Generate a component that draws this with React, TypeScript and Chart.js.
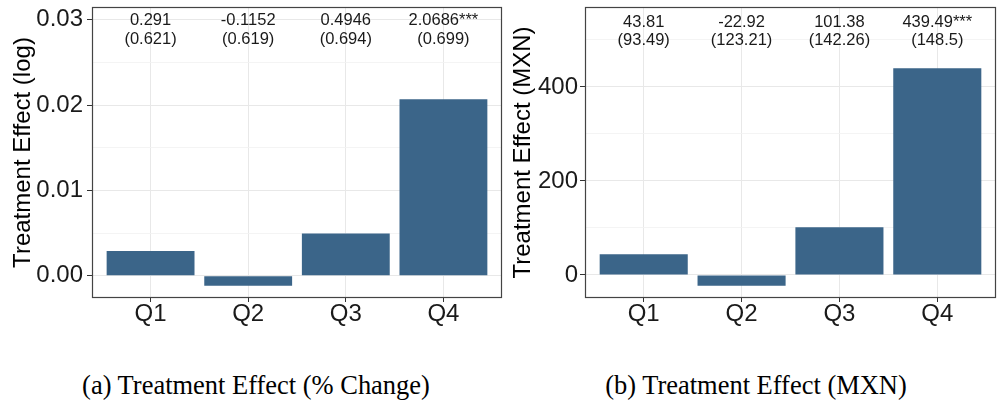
import React, { useEffect, useRef } from 'react';
import { Chart, registerables } from 'chart.js';

Chart.register(...registerables);

// ---- Data ----
const categories = ['Q1', 'Q2', 'Q3', 'Q4'];

const pctValues = [0.00291, -0.001152, 0.004946, 0.020686];
const pctEstimates = ['0.291', '-0.1152', '0.4946', '2.0686***'];
const pctStdErrors = ['(0.621)', '(0.619)', '(0.694)', '(0.699)'];
const pctMajorTicks = [0, 0.01, 0.02, 0.03];
const pctMinorTicks = [0.005, 0.015, 0.025];
const pctRange = [-0.0026, 0.0315];
const pctLabelY = 0.0299;

const mxnValues = [43.81, -22.92, 101.38, 439.49];
const mxnEstimates = ['43.81', '-22.92', '101.38', '439.49***'];
const mxnStdErrors = ['(93.49)', '(123.21)', '(142.26)', '(148.5)'];
const mxnMajorTicks = [0, 200, 400];
const mxnMinorTicks = [100, 300, 500];
const mxnRange = [-49, 570];
const mxnLabelY = 538;

const BAR_COLOR = '#3b6589';
const MAJOR_GRID = '#e8e8e8';
const MINOR_GRID = '#f1f1f1';
const SANS = '"Liberation Sans", Arial, sans-serif';

type PanelProps = {
  left: number;
  width: number;
  height: number;
  yAxisWidth: number;
  rightPad: number;
  values: number[];
  estimates: string[];
  stdErrors: string[];
  majorTicks: number[];
  minorTicks: number[];
  range: number[];
  labelY: number;
  yTitle: string;
  titlePad: number;
  tickPad: number;
  format: (v: number) => string;
};

function Panel(p: PanelProps) {
  const ref = useRef<HTMLCanvasElement | null>(null);

  useEffect(() => {
    if (!ref.current) return;
    const isMajor = (v: number) => p.majorTicks.includes(v);

    const overlay = {
      id: 'overlay',
      afterDraw(chart: any) {
        const { ctx, chartArea } = chart;
        const xs = chart.scales.x;
        const ys = chart.scales.y;
        ctx.save();
        // panel border
        ctx.strokeStyle = '#444444';
        ctx.lineWidth = 1.2;
        ctx.strokeRect(
          Math.round(chartArea.left) + 0.5,
          Math.round(chartArea.top) + 0.5,
          Math.round(chartArea.right - chartArea.left) - 1,
          Math.round(chartArea.bottom - chartArea.top) - 1
        );
        // annotations
        ctx.fillStyle = '#1a1a1a';
        ctx.font = `16.5px ${SANS}`;
        ctx.textAlign = 'center';
        ctx.textBaseline = 'middle';
        categories.forEach((_, i) => {
          const x = xs.getPixelForValue(i);
          const y = ys.getPixelForValue(p.labelY);
          ctx.fillText(p.estimates[i], x, y);
          ctx.fillText(p.stdErrors[i], x, y + 18.5);
        });
        ctx.restore();
      },
    };

    const chart = new Chart(ref.current, {
      type: 'bar',
      data: {
        datasets: [
          {
            data: categories.map((_, i) => ({ x: i, y: p.values[i] })),
            backgroundColor: BAR_COLOR,
            borderWidth: 0,
            barPercentage: 0.9,
            categoryPercentage: 1.0,
          },
        ],
      },
      options: {
        responsive: false,
        animation: false,
        devicePixelRatio: 1,
        layout: { padding: { top: 7, right: p.rightPad, left: 0, bottom: 0 } },
        plugins: {
          legend: { display: false },
          tooltip: { enabled: false },
        },
        scales: {
          x: {
            type: 'linear',
            min: -0.6,
            max: 3.6,
            offset: false,
            bounds: 'data',
            afterBuildTicks: (scale: any) => {
              scale.ticks = categories.map((_, i) => ({ value: i }));
            },
            afterFit: (scale: any) => {
              scale.height = p.height - 298;
              scale.paddingLeft = 0;
              scale.paddingRight = 0;
            },
            border: { display: false },
            grid: {
              offset: false,
              color: MAJOR_GRID,
              lineWidth: 1,
              tickColor: '#333333',
              tickLength: 4,
              tickWidth: 1,
            },
            ticks: {
              autoSkip: false,
              maxRotation: 0,
              padding: 0,
              color: '#1a1a1a',
              font: { family: SANS, size: 24, lineHeight: 1 },
              callback: (v: any) => categories[Number(v)] ?? '',
            },
          },
          y: {
            type: 'linear',
            min: p.range[0],
            max: p.range[1],
            bounds: 'data',
            afterBuildTicks: (scale: any) => {
              scale.ticks = [...p.majorTicks, ...p.minorTicks]
                .sort((a, b) => a - b)
                .map((v) => ({ value: v }));
            },
            afterFit: (scale: any) => {
              scale.width = p.yAxisWidth;
              scale.paddingTop = 0;
              scale.paddingBottom = 0;
            },
            border: { display: false },
            grid: {
              color: (c: any) => (c.tick && isMajor(c.tick.value) ? MAJOR_GRID : MINOR_GRID),
              lineWidth: (c: any) => (c.tick && isMajor(c.tick.value) ? 1 : 0.8),
              tickColor: (c: any) => (c.tick && isMajor(c.tick.value) ? '#333333' : 'rgba(0,0,0,0)'),
              tickLength: 5,
              tickWidth: 1,
            },
            ticks: {
              autoSkip: false,
              padding: p.tickPad,
              color: '#1a1a1a',
              font: { family: SANS, size: 24, lineHeight: 1 },
              callback: (v: any) => (isMajor(Number(v)) ? p.format(Number(v)) : ''),
            },
            title: {
              display: true,
              text: p.yTitle,
              color: '#000000',
              font: { family: SANS, size: 24, lineHeight: 1.2 },
              padding: { top: p.titlePad, bottom: 0 },
            },
          },
        },
      },
      plugins: [overlay],
    } as any);

    return () => chart.destroy();
  }, []);

  return (
    <canvas
      ref={ref}
      width={p.width}
      height={p.height}
      style={{ position: 'absolute', left: p.left, top: 0, width: p.width, height: p.height }}
    />
  );
}

const captionStyle = (center: number): React.CSSProperties => ({
  position: 'absolute',
  left: center - 250,
  width: 500,
  top: 369,
  height: 32,
  lineHeight: '32px',
  textAlign: 'center',
  fontFamily: '"Liberation Serif", "Times New Roman", serif',
  fontSize: 28,
  color: '#000',
  transform: 'scaleX(0.945)',
  whiteSpace: 'nowrap',
});

export default function App() {
  return (
    <div
      style={{
        position: 'fixed',
        left: 0,
        top: 0,
        width: 997,
        height: 400,
        background: '#ffffff',
        overflow: 'hidden',
      }}
    >
      <Panel
        left={0}
        width={505}
        height={345}
        yAxisWidth={92}
        rightPad={3}
        values={pctValues}
        estimates={pctEstimates}
        stdErrors={pctStdErrors}
        majorTicks={pctMajorTicks}
        minorTicks={pctMinorTicks}
        range={pctRange}
        labelY={pctLabelY}
        yTitle="Treatment Effect (log)"
        titlePad={9}
        tickPad={4}
        format={(v) => v.toFixed(2)}
      />
      <Panel
        left={505}
        width={492}
        height={345}
        yAxisWidth={80}
        rightPad={1}
        values={mxnValues}
        estimates={mxnEstimates}
        stdErrors={mxnStdErrors}
        majorTicks={mxnMajorTicks}
        minorTicks={mxnMinorTicks}
        range={mxnRange}
        labelY={mxnLabelY}
        yTitle="Treatment Effect (MXN)"
        titlePad={4}
        tickPad={2}
        format={(v) => String(v)}
      />
      <div style={captionStyle(256)}>(a) Treatment Effect (% Change)</div>
      <div style={captionStyle(756)}>(b) Treatment Effect (MXN)</div>
    </div>
  );
}
